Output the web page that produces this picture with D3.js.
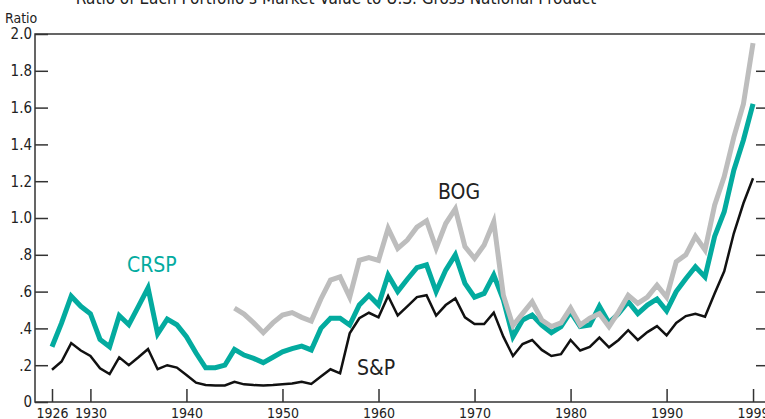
<!DOCTYPE html>
<html>
<head>
<meta charset="utf-8">
<script src="https://cdn.jsdelivr.net/npm/d3@7"></script>
<style>
  body { margin: 0; background: #fff; }
  text { font-family: "Liberation Sans Narrow", "DejaVu Sans Condensed", "DejaVu Sans", sans-serif; font-stretch: condensed; fill: #222; }
</style>
</head>
<body>
<svg id="chart" width="765" height="419"></svg>
<script>
var first_year = 1926, bog_first_year = 1945;

// S&P 500 / GNP, 1926-1999
var sp = [0.175, 0.22, 0.32, 0.28, 0.25, 0.183, 0.152, 0.243, 0.20, 0.243,
          0.288, 0.178, 0.20, 0.187, 0.147, 0.105, 0.092, 0.09, 0.09, 0.11,
          0.096, 0.092, 0.09, 0.092, 0.096, 0.10, 0.11, 0.098, 0.138, 0.178,
          0.156, 0.373, 0.455, 0.485, 0.46, 0.576, 0.47, 0.52, 0.57, 0.58,
          0.47, 0.527, 0.563, 0.46, 0.424, 0.424, 0.486, 0.355, 0.25, 0.315,
          0.337, 0.283, 0.25, 0.26, 0.337, 0.28, 0.30, 0.35, 0.297, 0.337,
          0.39, 0.337, 0.38, 0.412, 0.362, 0.43, 0.467, 0.48, 0.464, 0.59,
          0.71, 0.917, 1.08, 1.216];

// CRSP / GNP, 1926-1999
var crsp = [0.30, 0.43, 0.575, 0.52, 0.48, 0.34, 0.30, 0.47, 0.42, 0.52,
            0.62, 0.37, 0.45, 0.42, 0.355, 0.266, 0.186, 0.186, 0.20, 0.286,
            0.255, 0.237, 0.214, 0.243, 0.273, 0.29, 0.304, 0.283, 0.40, 0.455,
            0.455, 0.418, 0.527, 0.58, 0.527, 0.69, 0.60, 0.667, 0.73, 0.745,
            0.60, 0.717, 0.80, 0.645, 0.57, 0.59, 0.69, 0.555, 0.355, 0.446,
            0.473, 0.418, 0.377, 0.41, 0.49, 0.41, 0.418, 0.52, 0.43, 0.48,
            0.545, 0.48, 0.527, 0.56, 0.495, 0.60, 0.67, 0.735, 0.68, 0.90,
            1.034, 1.26, 1.424, 1.62];

// Board of Governors / GNP, 1945-1999
var bog = [0.51, 0.478, 0.43, 0.377, 0.43, 0.473, 0.486, 0.46, 0.44, 0.56,
           0.663, 0.68, 0.57, 0.77, 0.785, 0.77, 0.944, 0.835, 0.88, 0.95,
           0.985, 0.835, 0.97, 1.05, 0.845, 0.78, 0.853, 0.98, 0.58, 0.415,
           0.48, 0.545, 0.446, 0.41, 0.43, 0.51, 0.418, 0.455, 0.48, 0.41,
           0.49, 0.58, 0.536, 0.57, 0.635, 0.57, 0.762, 0.80, 0.90, 0.826,
           1.07, 1.225, 1.44, 1.62, 1.95];

var year_ticks = [1926, 1930, 1940, 1950, 1960, 1970, 1980, 1990, 1999];
var ratio_ticks = [0, 0.2, 0.4, 0.6, 0.8, 1.0, 1.2, 1.4, 1.6, 1.8, 2.0];
var ratio_labels = ["0", ".2", ".4", ".6", ".8", "1.0", "1.2", "1.4", "1.6", "1.8", "2.0"];

var plot_left = 35, plot_right = 766, plot_top = 34, plot_bottom = 402;

var svg = d3.select("#chart");

var x = d3.scaleLinear()
    .domain([1924.23, 2000.35])
    .range([plot_left, plot_right]);

var y = d3.scaleLinear()
    .domain([0, 2])
    .range([plot_bottom, plot_top]);

function to_points(values, start) {
  return values.map(function(v, i) { return {year: start + i, value: v}; });
}

var line = d3.line()
    .x(function(d) { return x(d.year); })
    .y(function(d) { return y(d.value); });

// title, mostly cut off at the top
svg.append("text")
    .attr("x", 336)
    .attr("y", 4)
    .attr("text-anchor", "middle")
    .style("font-size", "17px")
    .text("Ratio of Each Portfolio\u2019s Market Value to U.S. Gross National Product");

svg.append("text")
    .attr("x", 5)
    .attr("y", 23)
    .style("font-size", "14px")
    .text("Ratio");

// frame
svg.append("rect")
    .attr("x", plot_left)
    .attr("y", plot_top)
    .attr("width", plot_right - plot_left)
    .attr("height", plot_bottom - plot_top)
    .style("fill", "none")
    .style("stroke", "#333")
    .style("stroke-width", 1.5);

var yl = d3.axisLeft(y)
    .tickValues(ratio_ticks)
    .tickSize(-13)
    .tickPadding(3)
    .tickFormat(function(d, i) { return ratio_labels[i]; });

var gy = svg.append("g")
    .attr("transform", "translate(" + plot_left + ",0)")
    .call(yl);
gy.attr("font-family", null).attr("font-size", null);
gy.select(".domain").remove();
gy.selectAll("line").style("stroke", "#333").style("stroke-width", 1.5);
gy.selectAll("text").style("font-size", "15px").attr("fill", "#222");

var yr = d3.axisRight(y)
    .tickValues(ratio_ticks.slice(1, -1))
    .tickSize(-10)
    .tickFormat("");
var gyr = svg.append("g")
    .attr("transform", "translate(" + plot_right + ",0)")
    .call(yr);
gyr.select(".domain").remove();
gyr.selectAll("line").style("stroke", "#333").style("stroke-width", 1.5);

var xa = d3.axisBottom(x)
    .tickValues(year_ticks)
    .tickSize(-13)
    .tickPadding(6)
    .tickFormat(d3.format("d"));
var gx = svg.append("g")
    .attr("transform", "translate(0," + plot_bottom + ")")
    .call(xa);
gx.attr("font-family", null).attr("font-size", null);
gx.select(".domain").remove();
gx.selectAll("line").style("stroke", "#333").style("stroke-width", 1.5);
gx.selectAll("text").style("font-size", "14px").attr("fill", "#222");

// series
svg.append("path")
    .datum(to_points(crsp, first_year))
    .attr("d", line)
    .style("fill", "none")
    .style("stroke", "#03ab9f")
    .style("stroke-width", 5)
    .style("stroke-linejoin", "miter");

svg.append("path")
    .datum(to_points(bog, bog_first_year))
    .attr("d", line)
    .style("fill", "none")
    .style("stroke", "#bdbdbd")
    .style("stroke-width", 5)
    .style("stroke-linejoin", "miter");

svg.append("path")
    .datum(to_points(sp, first_year))
    .attr("d", line)
    .style("fill", "none")
    .style("stroke", "#111")
    .style("stroke-width", 2.5)
    .style("stroke-linejoin", "miter");

// series labels
svg.append("text")
    .attr("x", 127).attr("y", 272)
    .style("font-size", "21px")
    .style("fill", "#03ab9f")
    .text("CRSP");

svg.append("text")
    .attr("x", 438).attr("y", 199)
    .style("font-size", "21px")
    .text("BOG");

svg.append("text")
    .attr("x", 357).attr("y", 375)
    .style("font-size", "21px")
    .text("S&P");
</script>
</body>
</html>
